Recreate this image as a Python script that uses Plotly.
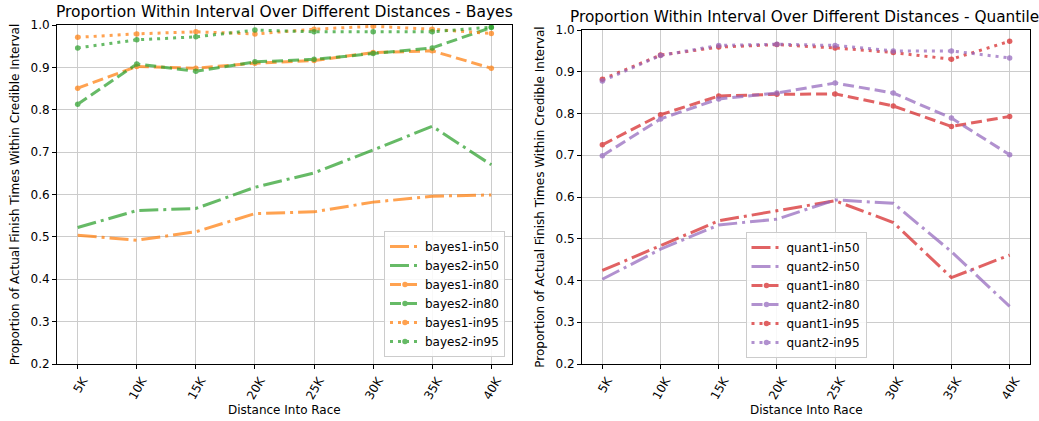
import plotly.graph_objects as go

W, H = 1039, 421

distances = ["5K", "10K", "15K", "20K", "25K", "30K", "35K", "40K"]

bayes1_in50 = [0.504, 0.492, 0.512, 0.555, 0.559, 0.582, 0.596, 0.599]
bayes2_in50 = [0.522, 0.562, 0.567, 0.617, 0.651, 0.705, 0.761, 0.670]
bayes1_in80 = [0.851, 0.902, 0.898, 0.910, 0.916, 0.935, 0.939, 0.898]
bayes2_in80 = [0.813, 0.908, 0.891, 0.913, 0.919, 0.933, 0.946, 0.994]
bayes1_in95 = [0.971, 0.979, 0.984, 0.979, 0.990, 0.997, 0.990, 0.980]
bayes2_in95 = [0.946, 0.965, 0.972, 0.988, 0.984, 0.984, 0.984, 0.995]

quant1_in50 = [0.424, 0.483, 0.543, 0.567, 0.591, 0.539, 0.407, 0.461]
quant2_in50 = [0.403, 0.475, 0.533, 0.547, 0.593, 0.585, 0.469, 0.338]
quant1_in80 = [0.725, 0.797, 0.842, 0.846, 0.847, 0.818, 0.769, 0.793]
quant2_in80 = [0.699, 0.787, 0.835, 0.849, 0.873, 0.849, 0.789, 0.701]
quant1_in95 = [0.882, 0.940, 0.959, 0.965, 0.957, 0.946, 0.930, 0.973]
quant2_in95 = [0.878, 0.939, 0.963, 0.966, 0.963, 0.950, 0.950, 0.933]

ORANGE = "#ff7f0e"
GREEN = "#2ca02c"
RED = "#d62728"
PURPLE = "#9467bd"

DASHDOT = "19px,5px,3px,5px"
DASHED = "11px,5px"
DOTTED = "3px,5px"

FONT = "DejaVu Sans"

fig = go.Figure()

left_series = [
    ("bayes1-in50", bayes1_in50, ORANGE, DASHDOT, False),
    ("bayes2-in50", bayes2_in50, GREEN, DASHDOT, False),
    ("bayes1-in80", bayes1_in80, ORANGE, DASHED, True),
    ("bayes2-in80", bayes2_in80, GREEN, DASHED, True),
    ("bayes1-in95", bayes1_in95, ORANGE, DOTTED, True),
    ("bayes2-in95", bayes2_in95, GREEN, DOTTED, True),
]
right_series = [
    ("quant1-in50", quant1_in50, RED, DASHDOT, False),
    ("quant2-in50", quant2_in50, PURPLE, DASHDOT, False),
    ("quant1-in80", quant1_in80, RED, DASHED, True),
    ("quant2-in80", quant2_in80, PURPLE, DASHED, True),
    ("quant1-in95", quant1_in95, RED, DOTTED, True),
    ("quant2-in95", quant2_in95, PURPLE, DOTTED, True),
]

for series, xa, ya, leg in [(left_series, "x", "y", "legend"),
                            (right_series, "x2", "y2", "legend2")]:
    for name, vals, col, dash, mk in series:
        fig.add_trace(go.Scatter(
            x=distances, y=vals, name=name,
            mode="lines+markers" if mk else "lines",
            line=dict(color=col, width=3, dash=dash),
            marker=dict(color=col, size=5.5),
            opacity=0.72,
            xaxis=xa, yaxis=ya, legend=leg,
        ))

def px_x(p):
    return p / W

def px_y(p):
    return 1 - p / H

axis_common = dict(
    showline=True, mirror=True, linecolor="black", linewidth=1,
    ticks="outside", ticklen=4, tickcolor="black", tickwidth=1,
    showgrid=True, gridcolor="#cccccc", gridwidth=1,
    zeroline=False, automargin=False,
    tickfont=dict(family=FONT, size=12, color="black"),
    title_font=dict(family=FONT, size=12, color="black"),
)

yticks = [0.2, 0.3, 0.4, 0.5, 0.6, 0.7, 0.8, 0.9, 1.0]
yticktext = [f"{v:.1f}" for v in yticks]
ytitle = "Proportion of Actual Finish Times Within Credible Interval"

fig.update_layout(
    width=W, height=H,
    margin=dict(l=0, r=0, t=0, b=0),
    paper_bgcolor="white", plot_bgcolor="white",
    font=dict(family=FONT, size=12, color="black"),
    xaxis=dict(domain=[px_x(57), px_x(512)], anchor="y",
               range=[-0.35, 7.35], tickangle=-60, ticklabelshift=5,
               **axis_common),
    yaxis=dict(domain=[px_y(364), px_y(25)], anchor="x",
               range=[0.2, 1.0], tickvals=yticks, ticktext=yticktext,
               title=dict(text=ytitle, standoff=8), **axis_common),
    xaxis2=dict(domain=[px_x(582), px_x(1030)], anchor="y2",
                range=[-0.35, 7.35], tickangle=-60, ticklabelshift=5,
                **axis_common),
    yaxis2=dict(domain=[px_y(364), px_y(30)], anchor="x2",
                range=[0.2, 1.0], tickvals=yticks, ticktext=yticktext,
                title=dict(text=ytitle, standoff=8), **axis_common),
    legend=dict(x=px_x(505), y=px_y(357), xanchor="right", yanchor="bottom",
                bgcolor="rgba(255,255,255,0.85)", bordercolor="#cccccc", borderwidth=1,
                font=dict(family=FONT, size=12, color="black"), tracegroupgap=0),
    legend2=dict(x=px_x(806), y=px_y(358), xanchor="center", yanchor="bottom",
                 bgcolor="rgba(255,255,255,0.85)", bordercolor="#cccccc", borderwidth=1,
                 font=dict(family=FONT, size=12, color="black"), tracegroupgap=0),
    annotations=[
        dict(text="Proportion Within Interval Over Different Distances - Bayes",
             x=px_x(284), y=px_y(12), xref="paper", yref="paper",
             xanchor="center", yanchor="middle", showarrow=False,
             font=dict(family=FONT, size=15.5, color="black")),
        dict(text="Proportion Within Interval Over Different Distances - Quantile",
             x=px_x(804), y=px_y(17), xref="paper", yref="paper",
             xanchor="center", yanchor="middle", showarrow=False,
             font=dict(family=FONT, size=15.3, color="black")),
        dict(text="Distance Into Race",
             x=px_x(284.5), y=px_y(410), xref="paper", yref="paper",
             xanchor="center", yanchor="middle", showarrow=False,
             font=dict(family=FONT, size=12, color="black")),
        dict(text="Distance Into Race",
             x=px_x(806), y=px_y(410), xref="paper", yref="paper",
             xanchor="center", yanchor="middle", showarrow=False,
             font=dict(family=FONT, size=12, color="black")),
    ],
)

fig.write_html(
    "out.html",
    config={"displayModeBar": False},
    post_script="document.body.style.margin='0';document.body.style.overflow='hidden';",
)
